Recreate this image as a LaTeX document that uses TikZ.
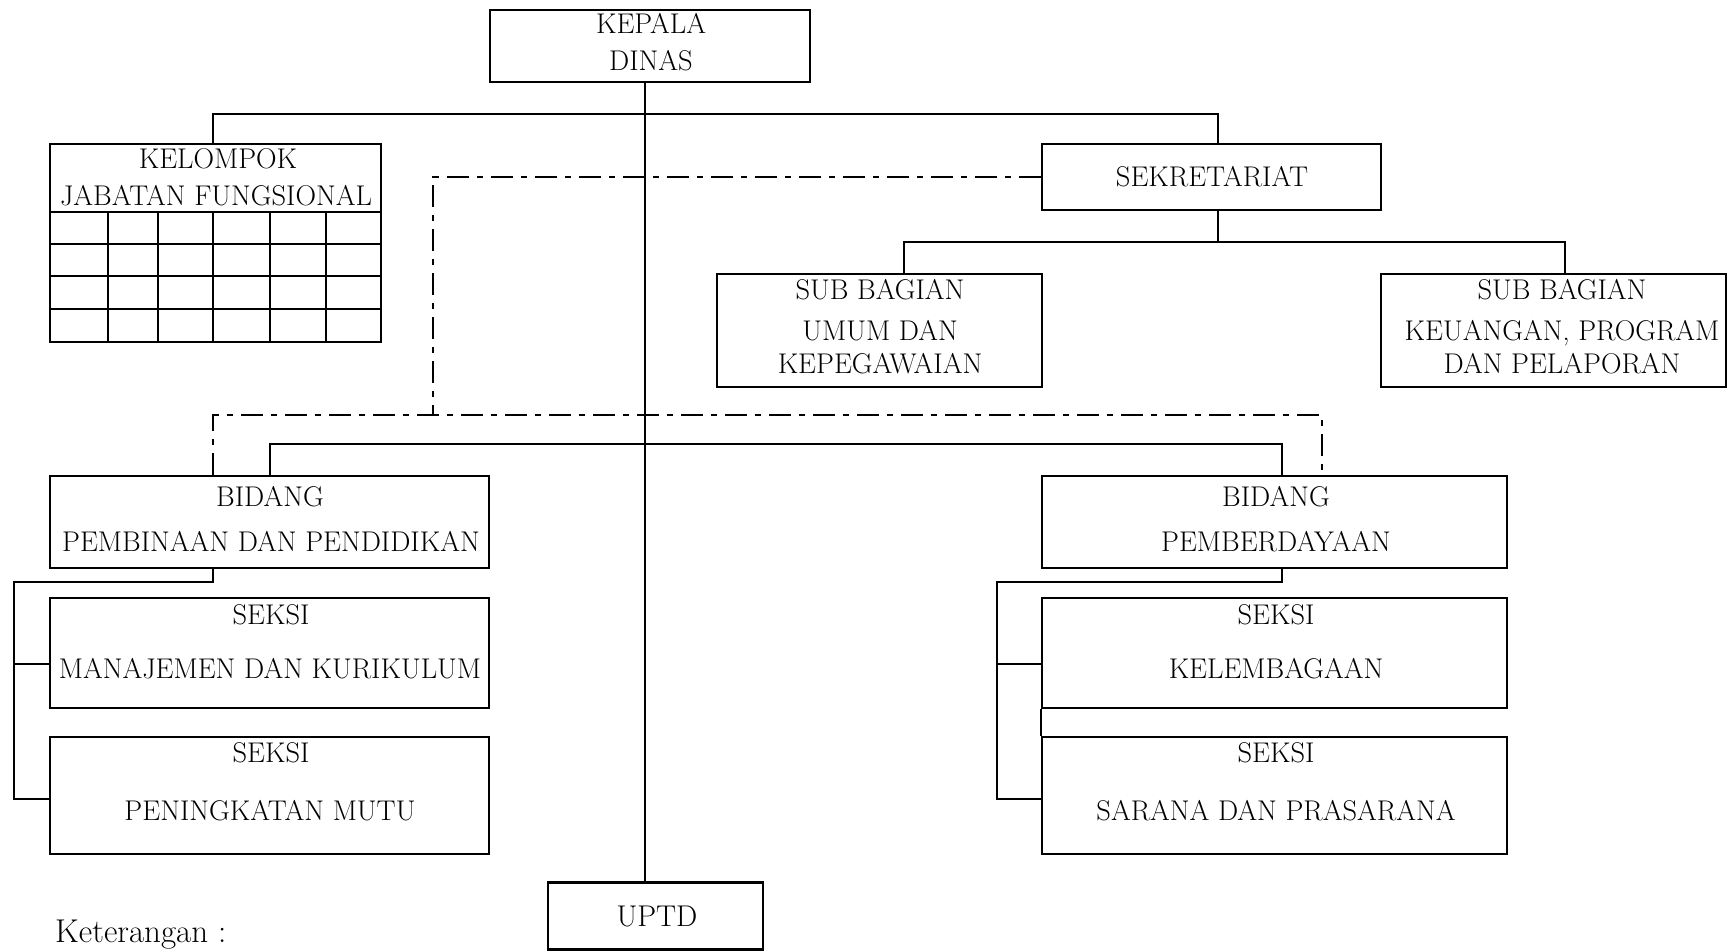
\documentclass[tikz,border=0pt]{standalone}
\usepackage{fontspec}
\begin{document}
\begin{tikzpicture}[x=1pt,y=-1pt,
  box/.style={draw, line width=2.3pt, inner sep=0pt},
  lbl/.style={inner sep=0pt, anchor=base, font=\fontsize{28.5}{33}\selectfont},
  conn/.style={line width=2.1pt},
  dd/.style={line width=2.1pt, dash pattern=on 22pt off 8pt on 6pt off 8pt}]
\useasboundingbox (0,0) rectangle (1728,952);
% boxes
\node[box, minimum width=320pt, minimum height=72pt] (kepala) at (650,46) {};
\node[box, minimum width=331pt, minimum height=198pt] (kelompok) at (215.5,243) {};
\node[box, minimum width=339pt, minimum height=66pt] (sekretariat) at (1211.5,177) {};
\node[box, minimum width=325pt, minimum height=113pt] (umum) at (879.5,330.5) {};
\node[box, minimum width=345pt, minimum height=113pt] (keuangan) at (1553.5,330.5) {};
\node[box, minimum width=439pt, minimum height=92pt] (bid1) at (269.5,522) {};
\node[box, minimum width=465pt, minimum height=92pt] (bid2) at (1274.5,522) {};
\node[box, minimum width=439pt, minimum height=110pt] (s1) at (269.5,653) {};
\node[box, minimum width=439pt, minimum height=117pt] (s2) at (269.5,795.5) {};
\node[box, minimum width=465pt, minimum height=110pt] (s3) at (1274.5,653) {};
\node[box, minimum width=465pt, minimum height=117pt] (s4) at (1274.5,795.5) {};
\node[box, minimum width=215pt, minimum height=67pt] (uptd) at (655.5,916) {};
% table grid of kelompok
\foreach \yy in {212,244,276,309}
  \draw[conn] (kelompok.west |- 0,\yy) -- (kelompok.east |- 0,\yy);
\foreach \xx in {108,158,213,270,326}
  \draw[conn] (\xx,212) -- (kelompok.south -| \xx,0);
% texts
\node[lbl] (tkep1) at (651,34) {KEPALA};
\node[lbl] (tkep2) at (651,71) {DINAS};
\node[lbl] (tkel1) at (218,169) {KELOMPOK};
\node[lbl] (tkel2) at (216,205) {JABATAN FUNGSIONAL};
\node[lbl] (tsek) at (1212,186) {SEKRETARIAT};
\node[lbl] (tum1) at (880,299) {SUB BAGIAN};
\node[lbl] (tum2) at (880,340) {UMUM DAN};
\node[lbl] (tum3) at (880,373) {KEPEGAWAIAN};
\node[lbl] (tke1) at (1562,299) {SUB BAGIAN};
\node[lbl] (tke2) at (1562,340) {KEUANGAN, PROGRAM};
\node[lbl] (tke3) at (1562,373) {DAN PELAPORAN};
\node[lbl] (tb11) at (270,506) {BIDANG};
\node[lbl] (tb12) at (271,551) {PEMBINAAN DAN PENDIDIKAN};
\node[lbl] (tb21) at (1276,506) {BIDANG};
\node[lbl] (tb22) at (1276,551) {PEMBERDAYAAN};
\node[lbl] (ts11) at (271,624) {SEKSI};
\node[lbl] (ts12) at (270,678) {MANAJEMEN DAN KURIKULUM};
\node[lbl] (ts21) at (271,762) {SEKSI};
\node[lbl] (ts22) at (270,820) {PENINGKATAN MUTU};
\node[lbl] (ts31) at (1276,624) {SEKSI};
\node[lbl] (ts32) at (1276,678) {KELEMBAGAAN};
\node[lbl] (ts41) at (1276,762) {SEKSI};
\node[lbl] (ts42) at (1276,820) {SARANA DAN PRASARANA};
\node[lbl, font=\fontsize{30}{35}\selectfont] (tuptd) at (657,926) {UPTD};
\node[lbl, anchor=base west, font=\fontsize{33}{38}\selectfont] (tket) at (55,942) {Keterangan :};
% connectors
\coordinate (spine) at (645,0);
\draw[conn] (kepala.south -| spine) -- (uptd.north -| spine);
\coordinate (b1L) at (213,114);
\coordinate (b1R) at (1218,114);
\draw[conn] (kelompok.north -| b1L) -- (b1L) -- (b1R) -- (sekretariat.north -| b1R);
\coordinate (b2L) at (904,242);
\coordinate (b2M) at (1218,242);
\coordinate (b2R) at (1565,242);
\draw[conn] (sekretariat.south -| b2M) -- (b2M);
\draw[conn] (umum.north -| b2L) -- (b2L) -- (b2R) -- (keuangan.north -| b2R);
\coordinate (dA) at (433,177);
\coordinate (dB) at (433,415);
\coordinate (dL) at (213,415);
\coordinate (dR) at (1322,415);
\draw[dd] (sekretariat.west |- dA) -- (dA) -- (dB);
\draw[dd] (bid1.north -| dL) -- (dL) -- (dR) -- (bid2.north -| dR);
\coordinate (sL) at (270,444);
\coordinate (sR) at (1282,444);
\draw[conn] (bid1.north -| sL) -- (sL) -- (sR) -- (bid2.north -| sR);
\coordinate (l1) at (213,582);
\coordinate (l2) at (14,582);
\coordinate (l3) at (14,799);
\coordinate (l4) at (14,664);
\draw[conn] (bid1.south -| l1) -- (l1) -- (l2) -- (l3) -- (s2.west |- l3);
\draw[conn] (l4) -- (s1.west |- l4);
\coordinate (r1) at (1282,582);
\coordinate (r2) at (997,582);
\coordinate (r3) at (997,799);
\coordinate (r4) at (997,664);
\draw[conn] (bid2.south -| r1) -- (r1) -- (r2) -- (r3) -- (s4.west |- r3);
\draw[conn] (r4) -- (s3.west |- r4);
\draw[conn] (s3.south west) -- (s4.north west);
\end{tikzpicture}
\end{document}
